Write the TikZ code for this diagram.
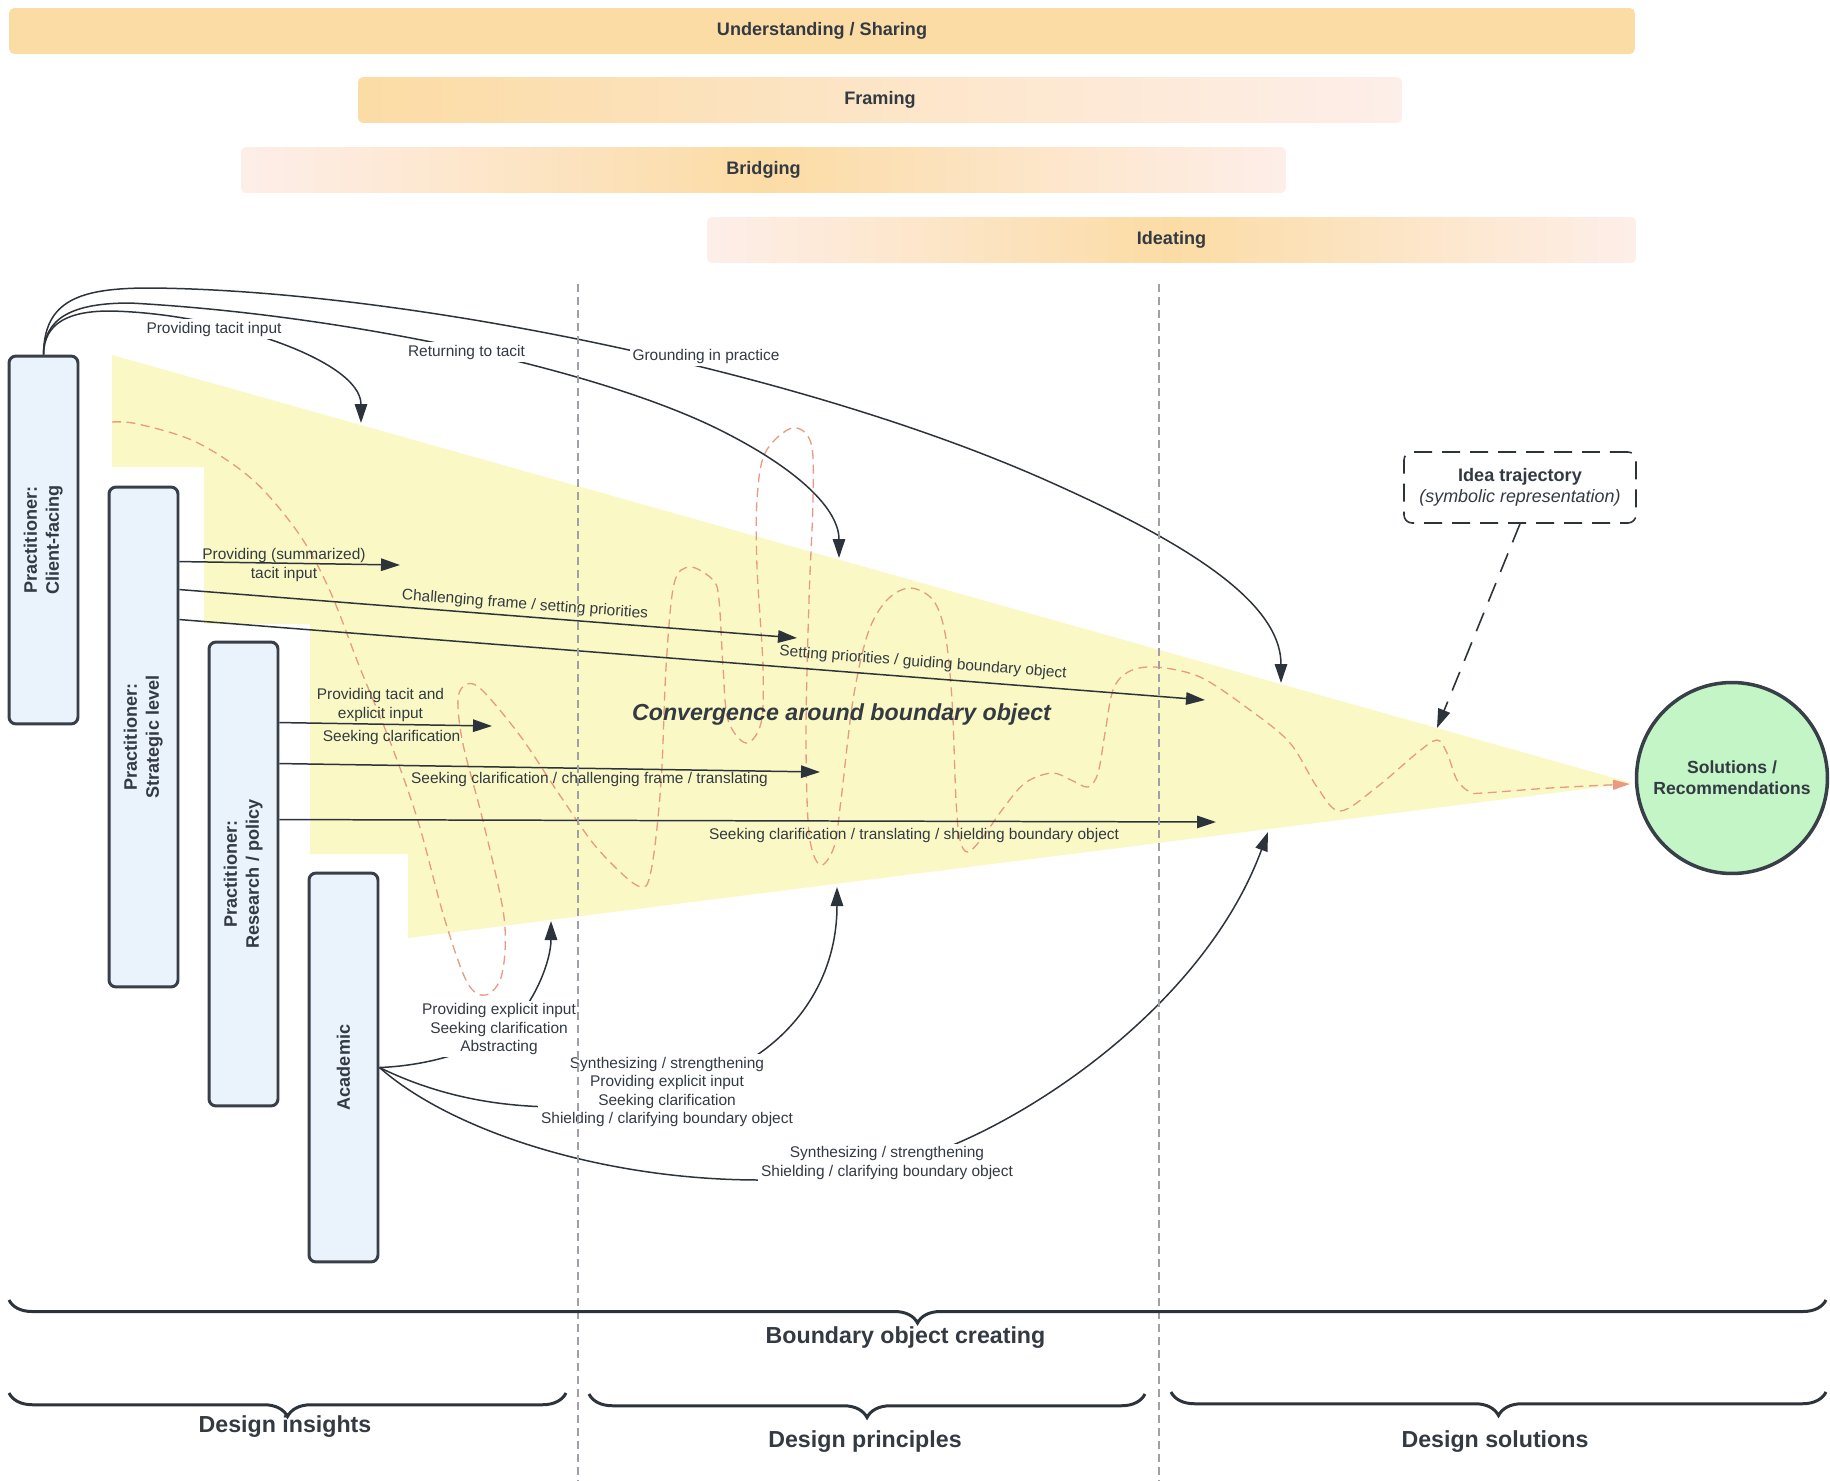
\documentclass[tikz,border=0pt]{standalone}
\usepackage{fontspec}
\setmainfont{Liberation Sans}
\usetikzlibrary{arrows.meta,calc,decorations.pathreplacing,shapes.geometric}

\definecolor{txt}{RGB}{51,58,66}
\definecolor{ln}{RGB}{45,51,58}
\definecolor{bandor}{RGB}{252,220,165}
\definecolor{bandpk}{RGB}{253,238,233}
\definecolor{yel}{RGB}{250,249,198}
\definecolor{boxblue}{RGB}{234,242,251}
\definecolor{boxedge}{RGB}{56,63,72}
\definecolor{solgreen}{RGB}{195,245,199}
\definecolor{traj}{RGB}{232,155,130}
\definecolor{vdash}{RGB}{160,160,166}

\tikzset{
 band/.style={rounded corners=0.1cm, minimum height=0.92cm, inner sep=0pt, text=txt, font=\fontsize{10.3}{12}\selectfont\bfseries},
 actor/.style={draw=boxedge, line width=1.7pt, fill=boxblue, rounded corners=0.14cm, minimum width=1.38cm, inner sep=0pt, text=txt, font=\fontsize{10.3}{12.4}\selectfont\bfseries},
 lbl/.style={text=txt, font=\fontsize{8.8}{10.6}\selectfont, inner sep=1.5pt, align=center},
 wlbl/.style={lbl, fill=white},
 conn/.style={draw=ln, line width=0.85pt, -{Triangle[length=0.38cm,width=0.25cm]}},
 trajline/.style={draw=traj, line width=0.75pt, dash pattern=on 0.18cm off 0.11cm},
 vdashline/.style={draw=vdash, line width=0.6pt, dash pattern=on 0.16cm off 0.1cm},
 ideabox/.style={draw=ln, line width=0.9pt, dash pattern=on 0.36cm off 0.2cm, rounded corners=0.16cm, minimum width=4.64cm, minimum height=1.42cm, inner sep=0pt, align=center, text=txt},
 ideaarrow/.style={draw=ln, line width=0.9pt, dash pattern=on 0.4cm off 0.24cm, -{Triangle[length=0.38cm,width=0.25cm]}},
 brc/.style={draw=ln, line width=1.7pt, decorate, decoration={brace, mirror, amplitude=#1}},
 bigt/.style={text=txt, font=\fontsize{13.2}{15}\selectfont\bfseries, inner sep=0pt},
}

\begin{document}
\begin{tikzpicture}[x=0.02cm, y=-0.02cm]
\useasboundingbox (0,0) rectangle (1830,1481);
\fill[white] (0,0) rectangle (1830,1481);

% phase bands
\node[band, minimum width=32.52cm, fill=bandor] (us) at (822,31) {Understanding / Sharing};
\node[band, minimum width=20.88cm, left color=bandor, right color=bandpk] (fr) at (880,100) {Framing};
\node[band, minimum width=20.9cm, left color=bandpk, right color=bandpk, middle color=bandor] (br) at (763.5,170) {Bridging};
\node[band, minimum width=18.58cm, left color=bandpk, right color=bandpk, middle color=bandor] (id) at (1171.5,240) {Ideating};

% convergence area
\fill[yel] (112,355) -- (1632,783) -- (408,938) -- (408,854) -- (310,854) -- (310,624) -- (204,624) -- (204,467) -- (112,467) -- cycle;
\coordinate (tip) at (1630,784);

% idea trajectory
\draw[trajline, -{Triangle[length=0.34cm,width=0.2cm]}] plot[smooth, tension=0.55] coordinates {
(112,422) (138,424) (196,442) (253,480) (299,534) (330,591) (360,668) (391,744) (418,821) (444,917) (467,982) (486,995) (502,974) (504,917) (483,821) (463,744) (458,699) (467,684) (483,691) (521,737) (559,794) (597,848) (638,886) (651,871) (661,783) (666,668) (674,584) (690,567) (713,580) (719,600) (723,667) (728,720) (746,743) (761,723) (763,667) (757,567) (757,500) (765,453) (792,428) (811,443) (813,500) (809,600) (806,733) (809,833) (820,865) (834,847) (841,800) (853,700) (868,633) (887,600) (910,588) (933,600) (945,633) (952,700) (956,800) (960,840) (968,852) (983,837) (1002,810) (1025,783) (1052,773) (1071,780) (1088,787) (1098,773) (1105,733) (1113,690) (1128,672) (1155,667) (1200,677) (1250,710) (1290,743) (1317,787) (1340,811) (1377,787) (1417,753) (1437,740) (1447,753) (1457,780) (1470,792) (1483,793) (1550,788) (1630,784)};

% actors
\node[actor, minimum height=7.36cm] (cf) at (43.5,540) {\rotatebox{90}{\begin{tabular}{@{}c@{}}Practitioner:\\Client-facing\end{tabular}}};
\node[actor, minimum height=10cm] (sl) at (143.5,737) {\rotatebox{90}{\begin{tabular}{@{}c@{}}Practitioner:\\Strategic level\end{tabular}}};
\node[actor, minimum height=9.28cm] (rp) at (243.5,874) {\rotatebox{90}{\begin{tabular}{@{}c@{}}Practitioner:\\Research / policy\end{tabular}}};
\node[actor, minimum height=7.78cm] (ac) at (343.5,1067.5) {\rotatebox{90}{Academic}};

% solutions and legend box
\node[circle, draw=boxedge, line width=2pt, fill=solgreen, minimum size=3.82cm, inner sep=0pt, align=center, text=txt, font=\fontsize{10}{12}\selectfont\bfseries] (sol) at (1732,778) {Solutions /\\Recommendations};
\node[ideabox] (idea) at (1520,487.5) {{\fontsize{10.3}{12.5}\selectfont\bfseries Idea trajectory}\\{\fontsize{10.2}{12.5}\selectfont\itshape (symbolic representation)}};

% arrow targets
\coordinate (t1) at (361,423);
\coordinate (t2) at (839,558);
\coordinate (t3) at (1281,683);
\coordinate (t4) at (400,565);
\coordinate (t5) at (797,638);
\coordinate (t6) at (1205,700);
\coordinate (t7) at (492,726);
\coordinate (t8) at (820,772);
\coordinate (t9) at (1216,822);
\coordinate (t10) at (551,921);
\coordinate (t11) at (837,887);
\coordinate (t12) at (1268,832);
\coordinate (t13) at (1437,728);

% client-facing arrows
\draw[conn] (cf.north) .. controls (44,322) and (70,311) .. (110,311) .. controls (220,313) and (361,360) .. (t1);
\draw[conn] (cf.north) .. controls (44,318) and (72,303) .. (130,303) .. controls (350,315) and (600,370) .. (720,430) .. controls (800,470) and (839,510) .. (t2);
\draw[conn] (cf.north) .. controls (44,300) and (80,288) .. (150,288) .. controls (400,290) and (800,370) .. (1050,482) .. controls (1180,540) and (1281,600) .. (t3);

% strategic level arrows
\draw[conn] ($(sl.north east)+(0,76)$) -- (t4);
\draw[conn] ($(sl.north east)+(0,104)$) -- (t5);
\draw[conn] ($(sl.north east)+(0,134)$) -- (t6);

% research / policy arrows
\draw[conn] ($(rp.north east)+(0,82)$) -- (t7);
\draw[conn] ($(rp.north east)+(0,123)$) -- (t8);
\draw[conn] ($(rp.north east)+(0,179)$) -- (t9);

% academic arrows
\draw[conn] (ac.east) .. controls (420,1066) and (470,1055) .. (505,1030) .. controls (535,1005) and (551,960) .. (t10);
\draw[conn] (ac.east) .. controls (440,1097) and (500,1107) .. (560,1107) .. controls (650,1107) and (720,1080) .. (754,1057) .. controls (800,1027) and (837,975) .. (t11);
\draw[conn] (ac.east) .. controls (450,1130) and (600,1180) .. (760,1180) .. controls (850,1180) and (920,1165) .. (953,1145) .. controls (1060,1100) and (1210,990) .. (t12);

% legend arrow
\draw[ideaarrow] (idea.south) -- (t13);

% labels
\node[wlbl] (l1) at (214,329) {Providing tacit input};
\node[wlbl] (l2) at (466.5,352) {Returning to tacit};
\node[wlbl] (l3) at (706,356) {Grounding in practice};
\node[lbl] (l4) at (284,565) {Providing (summarized)\\tacit input};
\node[lbl, rotate=-4.35] (l5) at (525,605) {Challenging frame / setting priorities};
\node[lbl, rotate=-4.4] (l6) at (923,663) {Setting priorities / guiding boundary object};
\node[lbl] (l7) at (380.5,705) {Providing tacit and\\explicit input};
\node[lbl] (l8) at (391.6,737) {Seeking clarification};
\node[lbl] (l9) at (589.5,779) {Seeking clarification / challenging frame / translating};
\node[lbl] (l10) at (914,835) {Seeking clarification / translating / shielding boundary object};
\node[wlbl] (l11) at (499,1029) {Providing explicit input\\Seeking clarification\\Abstracting};
\node[wlbl] (l12) at (667,1092) {Synthesizing / strengthening\\Providing explicit input\\Seeking clarification\\Shielding / clarifying boundary object};
\node[wlbl] (l13) at (887,1163) {Synthesizing / strengthening\\Shielding / clarifying boundary object};

\node[text=txt, font=\fontsize{13.2}{15}\selectfont\bfseries\itshape, inner sep=0pt] (conv) at (841.5,714) {Convergence around boundary object};

% phase separators
\draw[vdashline] (578,284) -- (578,1481);
\draw[vdashline] (1159,284) -- (1159,1481);

% braces
\draw[brc=0.46cm] (9,1300) -- (1826,1300);
\draw[brc=0.47cm] (9,1393) -- (566,1393);
\draw[brc=0.47cm] (589,1394) -- (1145,1394);
\draw[brc=0.47cm] (1171,1392) -- (1826,1392);

\node[bigt] (boc) at (905.5,1338) {Boundary object creating};
\node[bigt] (di) at (285,1427) {Design insights};
\node[bigt] (dp) at (865,1442) {Design principles};
\node[bigt] (ds) at (1495,1442) {Design solutions};
\end{tikzpicture}
\end{document}
